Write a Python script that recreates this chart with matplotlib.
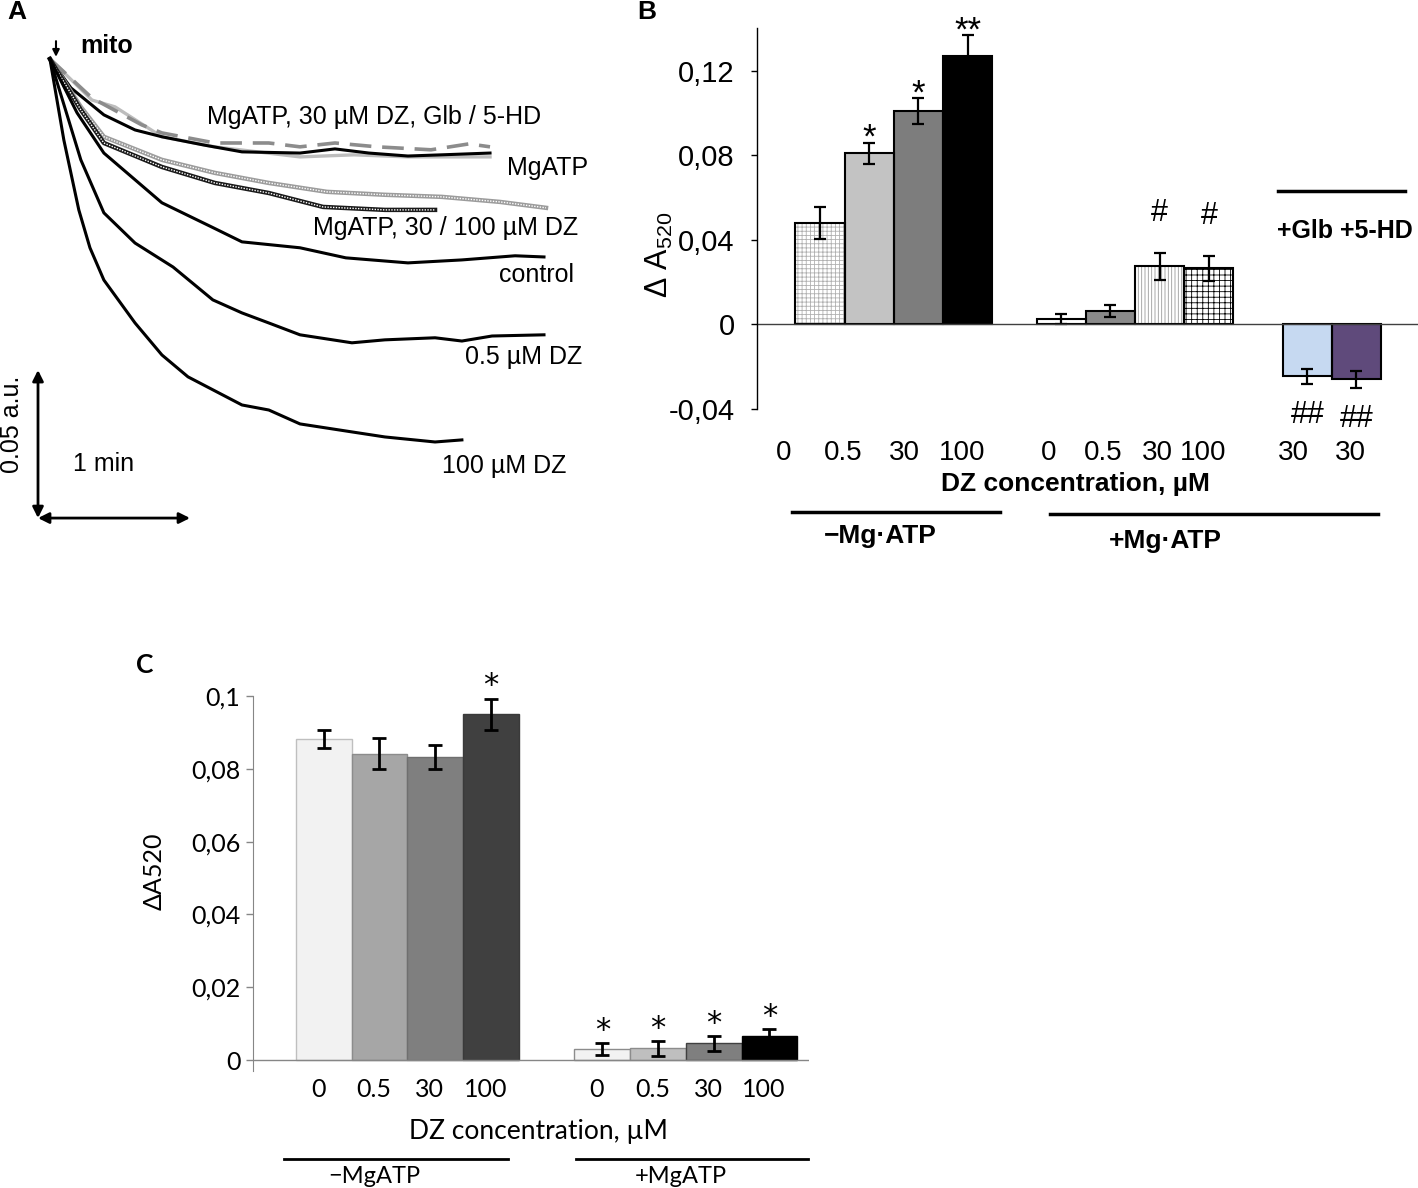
import numpy as np
import matplotlib.pyplot as plt

plt.rcParams['mathtext.default'] = 'regular'
plt.rcParams['hatch.linewidth'] = 0.6
plt.rcParams['font.family'] = ['Liberation Sans', 'DejaVu Sans']

# ---- Panel A: absorbance traces (time in s, change in A520 in a.u.)
t_mgatp = [0, 8.3, 21.3, 33.6, 44.2, 60.8, 75.8, 98.7, 112.5, 125.9, 141.3, 154.7, 173.7]
a_mgatp = [0, -0.0098, -0.0189, -0.0240, -0.0263, -0.0291, -0.0314, -0.0318, -0.0304,
           -0.0318, -0.0328, -0.0324, -0.0318]
t_glb = [0, 16.6, 25.7, 44.2, 65.1, 98.7, 120.0, 141.3, 173.7]
a_glb = [0, -0.0139, -0.0162, -0.0263, -0.0297, -0.0331, -0.0324, -0.0331, -0.0331]
t_5hd = [0, 16.6, 36.3, 44.2, 65.1, 86.4, 98.7, 112.5, 129.1, 150.4, 165.4, 173.7]
a_5hd = [0, -0.0132, -0.0223, -0.0250, -0.0284, -0.0284, -0.0297, -0.0284, -0.0297,
         -0.0307, -0.0287, -0.0297]
t_mg_dz30 = [0, 12.2, 21.3, 44.2, 65.1, 86.4, 109.3, 132.2, 154.7, 177.6, 195.8]
a_mg_dz30 = [0, -0.0162, -0.0263, -0.0341, -0.0385, -0.0419, -0.0449, -0.0459, -0.0466,
             -0.0483, -0.0503]
t_mg_dz100 = [0, 12.2, 21.3, 44.2, 65.1, 86.4, 107.8, 132.2, 152.0]
a_mg_dz100 = [0, -0.0172, -0.0284, -0.0365, -0.0419, -0.0453, -0.0500, -0.0510, -0.0510]
t_control = [0, 10.7, 21.3, 44.2, 63.9, 75.8, 98.7, 116.8, 141.3, 162.6, 183.6, 195.0]
a_control = [0, -0.0182, -0.0318, -0.0486, -0.0568, -0.0618, -0.0638, -0.0672, -0.0689,
             -0.0679, -0.0665, -0.0669]
t_dz05 = [0, 12.2, 21.3, 33.6, 48.6, 64.3, 75.8, 86.4, 98.7, 119.2, 132.2, 152.0, 162.6,
          174.5, 195.0]
a_dz05 = [0, -0.0341, -0.0520, -0.0622, -0.0703, -0.0814, -0.0858, -0.0892, -0.0932,
          -0.0959, -0.0949, -0.0942, -0.0953, -0.0936, -0.0932]
t_dz100 = [0, 5.5, 11.4, 15.8, 21.3, 33.6, 44.2, 54.5, 75.8, 86.4, 98.7, 119.2, 132.2,
           152.0, 162.6]
a_dz100 = [0, -0.0274, -0.0510, -0.0638, -0.0747, -0.0892, -0.1000, -0.1074, -0.1169,
           -0.1186, -0.1233, -0.1260, -0.1277, -0.1294, -0.1287]

# ---- Panel B: dA520, with Mg-ATP / DZ / blockers
b_labels = ['0', '0.5', '30', '100', '0', '0.5', '30', '100', '30', '30']
b_values = [0.048, 0.081, 0.101, 0.127, 0.0027, 0.0063, 0.0275, 0.0265, -0.0245, -0.026]
b_errors = [0.0075, 0.005, 0.006, 0.010, 0.0023, 0.003, 0.0065, 0.0058, 0.0035, 0.004]
b_marks = ['', '*', '*', '**', '', '', '#', '#', '##', '##']

# ---- Panel C: dA520
c_labels = ['0', '0.5', '30', '100', '0', '0.5', '30', '100']
c_values = [0.0882, 0.0842, 0.0832, 0.095, 0.0030, 0.0032, 0.0046, 0.0067]
c_errors = [0.0025, 0.0043, 0.0033, 0.0043, 0.0016, 0.0020, 0.0020, 0.0018]
c_marks = ['', '', '', '*', '*', '*', '*', '*']

W, H = 1418, 1188
fig = plt.figure(figsize=(W / 100, H / 100), dpi=100)

# ================= Panel A =================
axA = fig.add_axes([0, 1 - 545 / H, 620 / W, 545 / H])
axA.set_xlim(-19.7, 225)
axA.set_ylim(-0.1642, 0.0199)
axA.axis('off')

axA.plot(t_glb, a_glb, color='#bdbdbd', lw=2.4)
axA.plot(t_mgatp, a_mgatp, color='black', lw=2.2)
axA.plot(t_5hd, a_5hd, color='#8c8c8c', lw=2.6, dashes=(6, 3))
for t, a, base in [(t_mg_dz30, a_mg_dz30, '#9c9c9c'), (t_mg_dz100, a_mg_dz100, '#1a1a1a')]:
    axA.plot(t, a, color=base, lw=3.2)
    axA.plot(t, a, color='white', lw=1.0, dashes=(1, 1))
for t, a in [(t_control, a_control), (t_dz05, a_dz05), (t_dz100, a_dz100)]:
    axA.plot(t, a, color='black', lw=2.2)

fsA = 18
axA.text(62.0, -0.0196, 'MgATP, 30 µM DZ, Glb / 5-HD', fontsize=fsA, va='center')
axA.text(180.4, -0.0368, 'MgATP', fontsize=fsA, va='center')
axA.text(103.8, -0.0571, 'MgATP, 30 / 100 µM DZ', fontsize=fsA, va='center')
axA.text(177.2, -0.0730, 'control', fontsize=fsA, va='center')
axA.text(163.8, -0.1007, '0.5 µM DZ', fontsize=fsA, va='center')
axA.text(154.7, -0.1375, '100 µM DZ', fontsize=fsA, va='center')
axA.text(11.8, 0.0044, 'mito', fontsize=fsA, fontweight='bold', va='center')
axA.annotate('', xy=(2.4, 0.0007), xytext=(2.4, 0.0060),
             arrowprops=dict(arrowstyle='-|>', color='black', lw=1.5,
                             mutation_scale=10, shrinkA=0, shrinkB=0))

# scale bars: 1 min and 0.05 a.u.
t0, a0 = -4.7, -0.1551
arrow_kw = dict(arrowstyle='<|-|>', color='black', lw=2, mutation_scale=16,
                shrinkA=0, shrinkB=0)
axA.annotate('', xy=(t0 + 60, a0), xytext=(t0, a0), arrowprops=arrow_kw)
axA.annotate('', xy=(t0, a0 + 0.05), xytext=(t0, a0), arrowprops=arrow_kw)
axA.text(9.1, -0.1368, '1 min', fontsize=fsA, va='center')
axA.text(-15.0, -0.1236, '0.05 a.u.', fontsize=fsA, rotation=90, va='center', ha='center')

fig.text(17 / W, 1 - 12 / H, 'A', fontsize=19, fontweight='bold', ha='center', va='center')

# ================= Panel B =================
axB = fig.add_axes([757 / W, 1 - 409 / H, 661 / W, 381 / H])
b_pos = np.r_[np.arange(4), 4.9 + np.arange(4), 9.9 + np.arange(2)]
b_face = ['white', '#c3c3c3', '#7d7d7d', 'black', 'white', '#8a8a8a',
          'white', 'white', '#c6d9f1', '#5f4a7b']
b_hatch = ['++++', None, None, None, None, None, '|||||', '+++', None, None]
b_hcol = ['#b0b0b0', 'none', 'none', 'none', 'none', 'none',
          '#9a9a9a', 'black', 'none', 'none']

axB.bar(b_pos, b_values, width=1.0, color=b_face, edgecolor=b_hcol, hatch=b_hatch, lw=0)
axB.bar(b_pos, b_values, width=1.0, fill=False, edgecolor='black', lw=1.5)
axB.errorbar(b_pos, b_values, yerr=b_errors, fmt='none', ecolor='black',
             elinewidth=1.6, capsize=4, capthick=1.6)
axB.axhline(0, color='#404040', lw=1)

# marks are anchored on their baseline, offset from the error bar tip
mark_off = {'*': -0.0026, '**': -0.0026, '#': 0.015, '##': 0.0186}
mark_size = {'*': 25, '**': 25, '#': 22, '##': 22}
for x, v, e, m in zip(b_pos, b_values, b_errors, b_marks):
    if not m:
        continue
    y = v + e + mark_off[m] if v >= 0 else v - e - mark_off[m]
    axB.text(x, y, m, fontsize=mark_size[m], ha='center', va='baseline', clip_on=False)

axB.set_xlim(-1.28, 12.15)
axB.set_ylim(-0.04, 0.1402)
axB.set_yticks([-0.04, 0, 0.04, 0.08, 0.12])
axB.set_yticklabels(['-0,04', '0', '0,04', '0,08', '0,12'])
axB.tick_params(axis='y', direction='out', length=4, width=1, pad=12, labelsize=21)
b_label_x = b_pos + np.array([-0.73, -0.53, -0.29, -0.11, -0.25, -0.15, -0.05, -0.12, -0.29, -0.13])
axB.set_xticks(b_label_x)
axB.set_xticklabels(b_labels)
axB.tick_params(axis='x', length=0, pad=22, labelsize=20)
for s in ['top', 'right', 'bottom']:
    axB.spines[s].set_visible(False)
axB.spines['left'].set_linewidth(1)
axB.set_ylabel('Δ A$_{520}$', fontsize=22)
axB.yaxis.set_label_coords(-0.124, 0.404)

axB.text(5.18, -0.0753, 'DZ concentration, µM', fontsize=19, fontweight='bold',
         ha='center', va='center')
line_kw = dict(color='black', lw=2.5, clip_on=False)
axB.plot([-0.57, 3.66], [-0.0885, -0.0885], **line_kw)
axB.plot([4.67, 11.34], [-0.0895, -0.0895], **line_kw)
axB.plot([9.31, 11.89], [0.063, 0.063], **line_kw)
axB.text(1.22, -0.0999, '−Mg·ATP', fontsize=19, fontweight='bold', ha='center', va='center')
axB.text(7.01, -0.1022, '+Mg·ATP', fontsize=19, fontweight='bold', ha='center', va='center')
axB.text(10.67, 0.044, '+Glb +5-HD', fontsize=18, fontweight='bold', ha='center', va='center')

fig.text(647 / W, 1 - 12 / H, 'B', fontsize=19, fontweight='bold', ha='center', va='center')

# ================= Panel C =================
fC = ['Lato', 'DejaVu Sans']
axC = fig.add_axes([253 / W, 1 - 1071 / H, 556 / W, 375 / H])
c_pos = np.r_[np.arange(4), 5 + np.arange(4)]
c_face = ['#f2f2f2', '#a6a6a6', '#7f7f7f', '#404040', '#f2f2f2', '#bfbfbf', '#7f7f7f', '#000000']
c_edge = ['#bfbfbf', '#8c8c8c', '#6f6f6f', '#3a3a3a', '#8c8c8c', '#8c8c8c', '#404040', '#000000']
axC.bar(c_pos, c_values, width=1.0, color=c_face, edgecolor=c_edge, lw=1)
axC.errorbar(c_pos, c_values, yerr=c_errors, fmt='none', ecolor='black',
             elinewidth=2, capsize=5, capthick=2)
axC.axhline(0, color='#868686', lw=1)
for x, v, e, m in zip(c_pos, c_values, c_errors, c_marks):
    if m:
        axC.text(x, v + e + 0.0012, m, fontsize=22, ha='center', va='baseline',
                 family='DejaVu Sans', clip_on=False)

axC.set_xlim(-1.27, 8.71)
axC.set_ylim(-0.003, 0.1)
axC.set_yticks([0, 0.02, 0.04, 0.06, 0.08, 0.1])
axC.set_yticklabels(['0', '0,02', '0,04', '0,06', '0,08', '0,1'], family=fC)
axC.tick_params(axis='y', direction='out', length=5, width=1, color='#868686',
                pad=4, labelsize=18)
axC.set_xticks(c_pos - 0.1)
axC.set_xticklabels(c_labels, family=fC)
axC.tick_params(axis='x', length=0, pad=5, labelsize=18)
for s in ['top', 'right', 'bottom']:
    axC.spines[s].set_visible(False)
axC.spines['left'].set_color('#868686')
axC.set_ylabel('ΔA520', fontsize=18, family=fC)
axC.yaxis.set_label_coords(-0.157, 0.532)

axC.text(3.85, -0.0195, 'DZ concentration, µM', fontsize=19, family=fC,
         ha='center', va='center')
axC.plot([-0.72, 3.31], [-0.0273, -0.0273], color='black', lw=2, clip_on=False)
axC.plot([4.52, 8.70], [-0.0273, -0.0273], color='black', lw=2, clip_on=False)
axC.text(0.9, -0.0321, '−MgATP', fontsize=17, family=fC, ha='center', va='center')
axC.text(6.41, -0.0321, '+MgATP', fontsize=17, family=fC, ha='center', va='center')

fig.text(145 / W, 1 - 665 / H, 'C', fontsize=19, fontweight='bold', family=fC,
         ha='center', va='center')

fig.savefig('out.png', dpi=100)
